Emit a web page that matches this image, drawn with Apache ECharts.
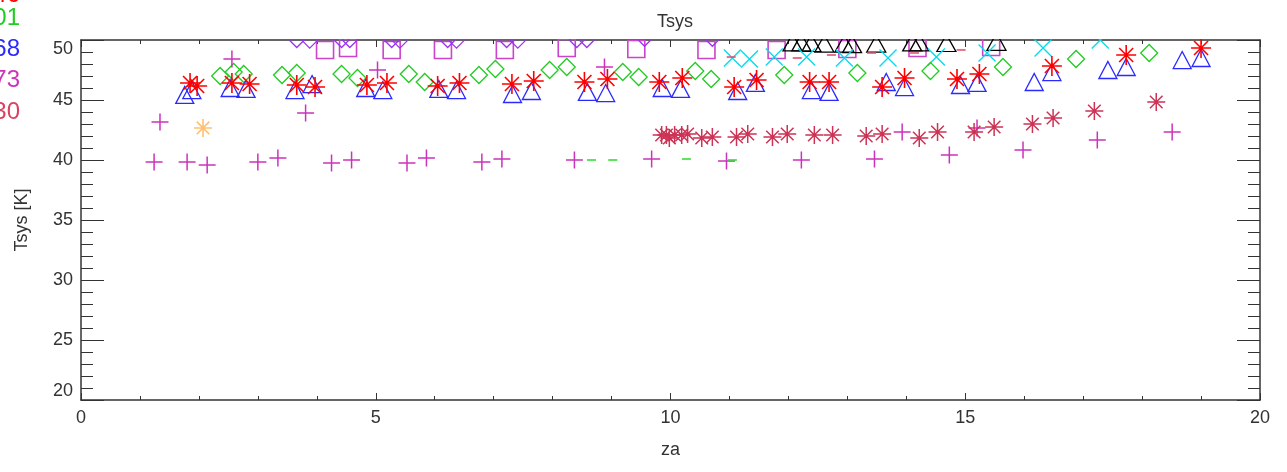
<!DOCTYPE html>
<html>
<head>
<meta charset="utf-8">
<script src="https://cdn.jsdelivr.net/npm/echarts@6/dist/echarts.min.js"></script>
<style>html,body{margin:0;padding:0;background:#fff}#c{width:1287px;height:472px}</style>
</head>
<body>
<div id="c"></div>
<script>
// ---- data ----
const xTicks = [0, 5, 10, 15, 20];
const yTicks = [20, 25, 30, 35, 40, 45, 50];

const redStarZa = [1.85,1.97,2.56,2.86,3.66,3.97,4.85,5.19,6.05,6.42,7.31,7.68,8.54,8.93,9.81,10.2,11.08,11.46,12.36,12.69,13.59,13.97,14.86,15.24,16.47,17.73,19.0];
const redStarT  = [46.42,46.17,46.42,46.33,46.25,46.08,46.25,46.42,46.17,46.42,46.33,46.58,46.5,46.75,46.5,46.83,46.08,46.67,46.5,46.5,46.08,46.83,46.75,47.17,47.83,48.75,49.33];

const blueTriZa = [1.76,1.88,2.53,2.8,3.63,3.92,4.83,5.12,6.07,6.37,7.32,7.64,8.59,8.9,9.86,10.17,11.14,11.44,12.39,12.69,13.66,13.97,14.92,15.2,16.17,16.47,17.42,17.73,18.68,19.0];
const blueTriT  = [45.42,45.83,46.0,45.92,45.83,46.33,46.0,45.83,45.92,45.83,45.5,45.75,45.67,45.58,46.0,45.92,45.75,46.42,45.83,45.67,46.5,46.08,46.25,46.42,46.5,47.33,47.5,47.75,48.33,48.5];

const greenDiaZa = [2.36,2.59,2.76,3.41,3.66,4.42,4.69,5.56,5.83,6.75,7.03,7.95,8.24,9.19,9.46,10.42,10.69,11.93,13.17,14.41,15.64,16.88,18.12];
const greenDiaT  = [47.0,47.33,47.17,47.08,47.25,47.17,46.83,47.17,46.5,47.08,47.58,47.5,47.75,47.33,46.92,47.42,46.75,47.08,47.25,47.42,47.75,48.42,48.92];

const plusZa = [1.24,1.34,1.8,2.14,2.56,3.0,3.34,3.81,4.25,4.59,5.03,5.53,5.86,6.8,7.14,8.37,8.88,9.68,10.95,12.22,13.46,13.93,14.73,15.2,15.98,17.24,18.51];
const plusT  = [39.83,43.17,39.83,39.58,48.42,39.83,40.17,43.92,39.75,40.0,47.5,39.75,40.17,39.83,40.08,40.0,47.75,40.08,39.92,40.0,40.08,42.33,40.42,42.67,40.83,41.67,42.33];

const crimsonZa = [9.85,9.93,9.98,10.07,10.19,10.29,10.53,10.71,11.12,11.31,11.73,11.98,12.44,12.75,13.32,13.59,14.22,14.53,15.15,15.49,16.14,16.49,17.19,18.24];
const crimsonT  = [42.08,42.08,41.83,42.08,42.08,42.17,41.83,41.92,41.92,42.17,41.92,42.17,42.08,42.08,42.0,42.17,41.83,42.33,42.33,42.75,43.0,43.5,44.08,44.83];

const orangeZa = [2.07];
const orangeT  = [42.67];

const squareZa = [4.14,4.53,5.27,6.14,7.19,8.24,9.42,10.61,11.8,13.0,14.19,15.44];
const squareT  = [49.17,49.33,49.17,49.17,49.17,49.33,49.25,49.17,49.17,49.25,49.33,49.42];

const purpleDiaZa = [3.66,3.88,4.42,4.56,5.27,5.41,6.22,6.37,7.22,7.41,8.41,8.58,9.56,10.71];
const purpleDiaT  = [50.0,49.95,50.0,50.0,50.0,49.95,50.0,49.95,50.0,49.95,50.0,50.0,50.1,50.1];

const blackTriZa = [12.07,12.22,12.39,12.61,12.95,13.08,13.49,14.1,14.22,14.68,15.53];
const blackTriT  = [49.8,49.8,49.75,49.7,49.7,49.65,49.7,49.8,49.8,49.75,49.85];

const cyanXZa = [11.05,11.34,11.76,12.31,12.95,13.69,14.51,15.37,16.32,17.29];
const cyanXT  = [48.5,48.42,48.58,48.58,48.5,48.5,48.58,48.92,49.33,50.0];

const pinkDashZa = [11.03,12.15,12.73,13.41,14.14,14.93];
const pinkDashT  = [48.58,48.5,48.75,48.92,48.92,49.17];

const greenDashZa = [8.66,9.02,10.27,11.05];
const greenDashT  = [40.0,40.0,40.08,40.0];

const legendTexts  = ['2046', '2101', '2168', '2173', '2130'];
const legendColors = ['#ff0000', '#22cc22', '#2a2aff', '#cc33bb', '#dd4060'];

// ---- helpers ----
const zip = (a, b) => a.map((v, i) => [v, b[i]]);
const FONT = 'Liberation Sans';
const AX = '#333';
const STAR = 'path://M0,-1L0,1M-1,0L1,0M-0.7,-0.7L0.7,0.7M-0.7,0.7L0.7,-0.7';
const PLUS = 'path://M-1,0L1,0M0,-1L0,1';
const XMARK = 'path://M-1,-1L1,1M-1,1L1,-1';

function hollow(name, za, t, symbol, size, color, z, bw) {
  return {
    name, type: 'scatter', data: zip(za, t), symbol, symbolSize: size, clip: false,
    z: z || 2, silent: true,
    itemStyle: { color: 'rgba(0,0,0,0)', borderColor: color, borderWidth: bw || 1.3, opacity: 1 },
    emphasis: { disabled: true }
  };
}
function filled(name, za, t, symbol, size, color, z) {
  return {
    name, type: 'scatter', data: zip(za, t), symbol, symbolSize: size, clip: false,
    z: z || 2, silent: true, itemStyle: { color }, emphasis: { disabled: true }
  };
}

const axisCommon = {
  axisLine: { show: true, onZero: false, lineStyle: { color: AX, width: 1.5 } },
  splitLine: { show: false }
};

const chart = echarts.init(document.getElementById('c'), null, { renderer: 'canvas' });
chart.setOption({
  animation: false,
  backgroundColor: '#fff',
  title: {
    text: 'Tsys', left: 670, top: 8, textAlign: 'center', z: 200,
    textStyle: { fontFamily: FONT, fontSize: 18, fontWeight: 'normal', color: AX }
  },
  grid: { left: 81, right: 27, top: 40, bottom: 72, containLabel: false },
  xAxis: [
    Object.assign({
      type: 'value', min: xTicks[0], max: xTicks[xTicks.length - 1], interval: 5, position: 'bottom',
      axisTick: { show: true, inside: true, length: 7, lineStyle: { color: AX } },
      minorTick: { show: true, splitNumber: 5, length: 4, lineStyle: { color: AX } },
      axisLabel: { margin: 9, fontFamily: FONT, fontSize: 18, color: AX },
      name: 'za', nameLocation: 'middle', nameGap: 41,
      nameTextStyle: { fontFamily: FONT, fontSize: 18, color: AX }
    }, axisCommon),
    Object.assign({
      type: 'value', min: xTicks[0], max: xTicks[xTicks.length - 1], interval: 5, position: 'top',
      axisTick: { show: true, inside: true, length: 7, lineStyle: { color: AX } },
      minorTick: { show: true, splitNumber: 5, length: 4, lineStyle: { color: AX } },
      axisLabel: { show: false }
    }, axisCommon)
  ],
  yAxis: [
    Object.assign({
      type: 'value', min: yTicks[0], max: yTicks[yTicks.length - 1], interval: 5, position: 'left',
      axisTick: { show: true, inside: true, length: 23, lineStyle: { color: AX } },
      minorTick: { show: true, splitNumber: 5, length: 12, lineStyle: { color: AX } },
      axisLabel: { margin: 8, fontFamily: FONT, fontSize: 18, color: AX,
                   verticalAlignMaxLabel: 'top', verticalAlignMinLabel: 'bottom' },
      name: 'Tsys [K]', nameLocation: 'middle', nameGap: 50, nameRotate: 90,
      nameTextStyle: { fontFamily: FONT, fontSize: 18, color: AX }
    }, axisCommon),
    Object.assign({
      type: 'value', min: yTicks[0], max: yTicks[yTicks.length - 1], interval: 5, position: 'right',
      axisTick: { show: true, inside: true, length: 23, lineStyle: { color: AX } },
      minorTick: { show: true, splitNumber: 5, length: 12, lineStyle: { color: AX } },
      axisLabel: { show: false }
    }, axisCommon)
  ],
  graphic: [
    { type: 'rect', z: 100, silent: true, shape: { x: 82, y: 0, width: 1177, height: 39 }, style: { fill: '#fff' } }
  ].concat(legendTexts.map((t, i) => ({
    type: 'text', z: 200, silent: true, x: 20, y: i === 0 ? -5 : 18 + 31.3 * (i - 1),
    style: { text: t, fill: legendColors[i], font: '24px "' + FONT + '"', align: 'right', verticalAlign: 'middle' }
  }))),
  series: [
    hollow('sq', squareZa, squareT, 'rect', 17, '#cc44cc', 2, 1.6),
    hollow('pdia', purpleDiaZa, purpleDiaT, 'diamond', [15, 15], '#9933ee', 2),
    hollow('btri', blackTriZa, blackTriT, 'triangle', [19, 17], '#000000', 2),
    hollow('cx', cyanXZa, cyanXT, XMARK, 17, '#00dcee', 2),
    filled('pdash', pinkDashZa, pinkDashT, 'rect', [9, 2], '#e05070', 2),
    hollow('gdia', greenDiaZa, greenDiaT, 'diamond', [17, 17], '#22cc22', 3),
    hollow('btri2', blueTriZa, blueTriT, 'triangle', [18, 17], '#2a2aff', 3),
    hollow('rstar', redStarZa, redStarT, STAR, 20, '#ff0000', 4, 1.6),
    hollow('plus', plusZa, plusT, PLUS, 17, '#cc33bb', 4, 1.5),
    hollow('cstar', crimsonZa, crimsonT, STAR, 18, '#cc3355', 4, 1.5),
    hollow('ostar', orangeZa, orangeT, STAR, 18, '#ffc070', 4, 1.6),
    filled('gdash', greenDashZa, greenDashT, 'rect', [9, 2], '#33dd33', 4)
  ]
});
</script>
</body>
</html>
